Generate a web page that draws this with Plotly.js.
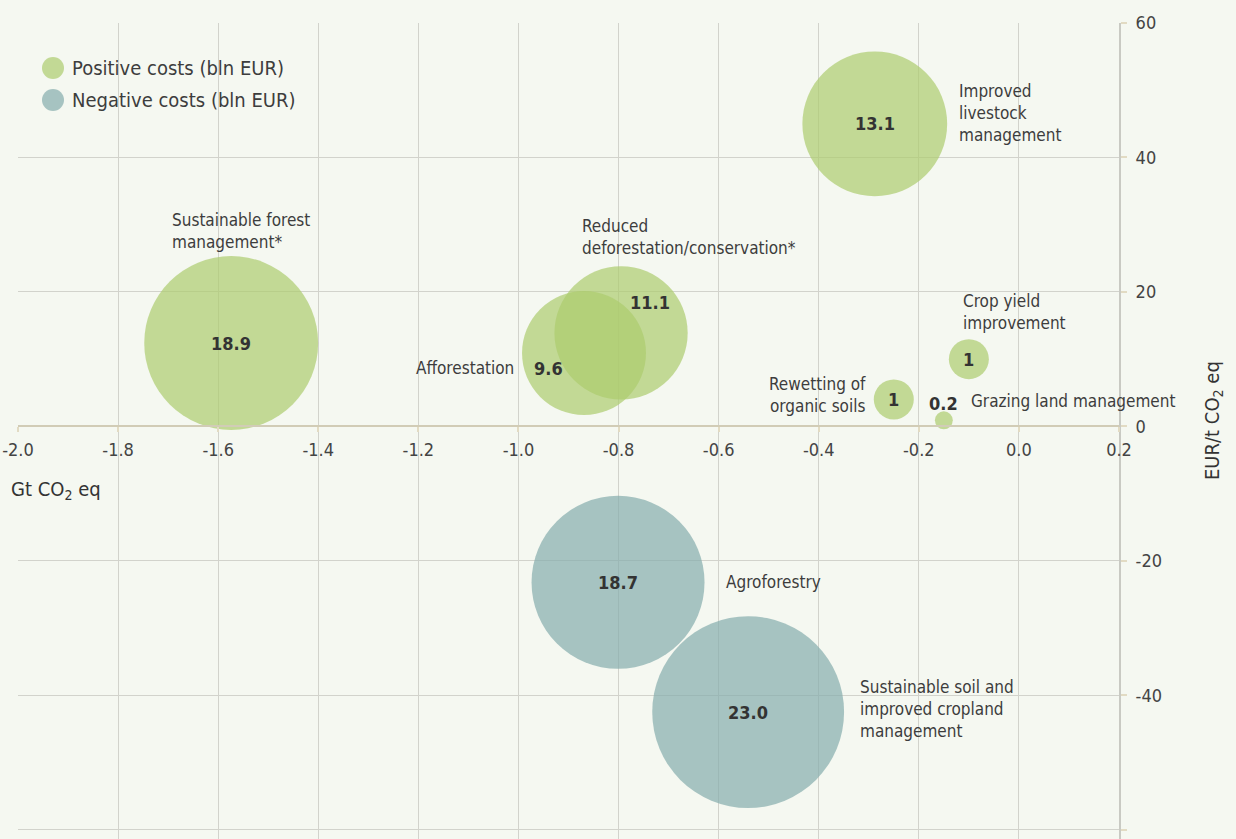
<!DOCTYPE html>
<html>
<head>
<meta charset="utf-8">
<script src="https://cdn.plot.ly/plotly-3.0.1.min.js"></script>
<style>
  html, body { margin: 0; padding: 0; background: #f5f8f1; }
  #chart { width: 1236px; height: 839px; }
</style>
</head>
<body>
<div id="chart"></div>
<script>
// abatement options (<br> = line break as printed)
const names = [
    'Improved<br>livestock<br>management',
    'Sustainable forest<br>management*',
    'Reduced<br>deforestation/conservation*',
    'Afforestation',
    'Crop yield<br>improvement',
    'Rewetting of<br>organic soils',
    'Grazing land management',
    'Agroforestry',
    'Sustainable soil and<br>improved cropland<br>management'
];
const gtCO2 = [-0.288, -1.574, -0.795, -0.869, -0.100, -0.250, -0.150, -0.801, -0.541];
const eurPerT = [45.0, 12.4, 13.9, 10.9, 10.0, 4.0, 0.9, -23.2, -42.5];
const costBln = [13.1, 18.9, 11.1, 9.6, 1, 1, 0.2, 18.7, 23.0];
const costType = ['pos', 'pos', 'pos', 'pos', 'pos', 'pos', 'pos', 'neg', 'neg'];

const xTicks = [-2.0, -1.8, -1.6, -1.4, -1.2, -1.0, -0.8, -0.6, -0.4, -0.2, 0.0, 0.2];
const yTicks = [-60, -40, -20, 0, 20, 40, 60];

// label placement (pixels from bubble centre)
const labelAnchor = ['left', 'left', 'left', 'right', 'left', 'right', 'left', 'left', 'left'];
const labelDx = [82, -61, -41, -68, -8, -26, 25, 106, 110];
const labelDy = [11, 112, 96, -15, 47, 4, 19, 0, 3];
const valueDx = [0, 0, 29, -36, 0, 0, 0, 0, 0];
const valueDy = [0, 0, 30, -15, 0, 0, 17, 0, 0];

const FONT = '"Liberation Sans Narrow", "DejaVu Sans Condensed", "Arial Narrow", sans-serif';
const GREEN = 'rgb(172,204,110)';
const TEAL = 'rgb(132,173,173)';
const BG = '#f5f8f1';

function pick(arr, type) {
    return arr.filter((_, i) => costType[i] === type);
}

function bubbleTrace(type, color) {
    return {
        type: 'scatter',
        mode: 'markers',
        x: pick(gtCO2, type),
        y: pick(eurPerT, type),
        marker: {
            size: pick(costBln, type),
            sizemode: 'area',
            sizeref: 0.00125,
            color: color,
            opacity: 0.7,
            line: { width: 0 }
        },
        hoverinfo: 'skip',
        showlegend: false
    };
}

function fmtValue(v) {
    return (Number.isInteger(v) && v < 10) ? String(v) : v.toFixed(1);
}

// plain hyphen for negatives, as in the original
const hyphen = (s) => s.replace('\u2212', '-');

const annotations = [];

names.forEach((name, i) => {
    annotations.push({
        x: gtCO2[i], y: eurPerT[i], xref: 'x', yref: 'y',
        text: name, showarrow: false, align: labelAnchor[i],
        xanchor: labelAnchor[i], yanchor: 'middle',
        xshift: labelDx[i], yshift: labelDy[i],
        font: { family: FONT, size: 17, color: '#3d3d3d' }
    });
    annotations.push({
        x: gtCO2[i], y: eurPerT[i], xref: 'x', yref: 'y',
        text: '<b>' + fmtValue(costBln[i]) + '</b>', showarrow: false,
        xanchor: 'center', yanchor: 'middle',
        xshift: valueDx[i], yshift: valueDy[i],
        font: { family: FONT, size: 18, color: '#333333' }
    });
});

// legend text, axis captions
const W = 1236, H = 839, ML = 18, MR = 117, MT = 23, MB = 0;
const pw = W - ML - MR, ph = H - MT - MB;
const px = (p) => (p - ML) / pw;
const py = (p) => (H - MB - p) / ph;

const legendItems = [
    { text: 'Positive costs (bln EUR)', color: GREEN, y: 68 },
    { text: 'Negative costs (bln EUR)', color: TEAL, y: 100 }
];
const shapes = [];
legendItems.forEach(item => {
    shapes.push({
        type: 'circle', xref: 'paper', yref: 'paper',
        xsizemode: 'pixel', ysizemode: 'pixel',
        xanchor: px(53), yanchor: py(item.y),
        x0: -11, x1: 11, y0: -11, y1: 11,
        fillcolor: item.color, opacity: 0.7, line: { width: 0 }
    });
    annotations.push({
        xref: 'paper', yref: 'paper', x: px(70), y: py(item.y),
        xanchor: 'left', yanchor: 'middle', showarrow: false,
        text: item.text,
        font: { family: FONT, size: 20, color: '#3d3d3d' }
    });
});

annotations.push({
    xref: 'paper', yref: 'paper', x: px(9), y: py(490),
    xanchor: 'left', yanchor: 'middle', showarrow: false,
    text: 'Gt CO<sub>2</sub> eq',
    font: { family: FONT, size: 20, color: '#333333' }
});
annotations.push({
    xref: 'paper', yref: 'paper', x: px(1213), y: py(421),
    xanchor: 'center', yanchor: 'middle', showarrow: false,
    textangle: -90,
    text: 'EUR/t CO<sub>2</sub> eq',
    font: { family: FONT, size: 20, color: '#333333' }
});

const layout = {
    width: W, height: H,
    margin: { l: ML, r: MR, t: MT, b: MB, pad: 0 },
    paper_bgcolor: BG,
    plot_bgcolor: BG,
    showlegend: false,
    xaxis: {
        range: [-2.0, 0.2],
        tickmode: 'array',
        tickvals: xTicks,
        ticktext: xTicks.map(v => hyphen(v.toFixed(1))),
        ticklabeloverflow: 'allow',
        anchor: 'free',
        position: py(426.4),
        showgrid: true, gridcolor: '#d2d3cc', gridwidth: 1,
        showline: true, linecolor: '#d1ccb6', linewidth: 2,
        zeroline: false,
        ticks: 'outside', ticklen: 5, tickcolor: '#e2dbc3', tickwidth: 2,
        ticklabelstandoff: 2,
        tickfont: { family: FONT, size: 18, color: '#444444' }
    },
    yaxis: {
        range: [-61.38, 60],
        tickmode: 'array',
        tickvals: yTicks,
        ticktext: yTicks.map(v => String(v)),
        side: 'right',
        anchor: 'x',
        showgrid: true, gridcolor: '#d2d3cc', gridwidth: 1,
        showline: true, linecolor: '#c9cac3', linewidth: 2,
        zeroline: false,
        ticks: 'outside', ticklen: 6, tickcolor: '#e2dbc3', tickwidth: 2,
        ticklabelstandoff: 5,
        tickfont: { family: FONT, size: 18, color: '#444444' }
    },
    shapes: shapes,
    annotations: annotations
};

Plotly.newPlot('chart', [bubbleTrace('pos', GREEN), bubbleTrace('neg', TEAL)], layout,
    { staticPlot: true, displayModeBar: false });
</script>
</body>
</html>
